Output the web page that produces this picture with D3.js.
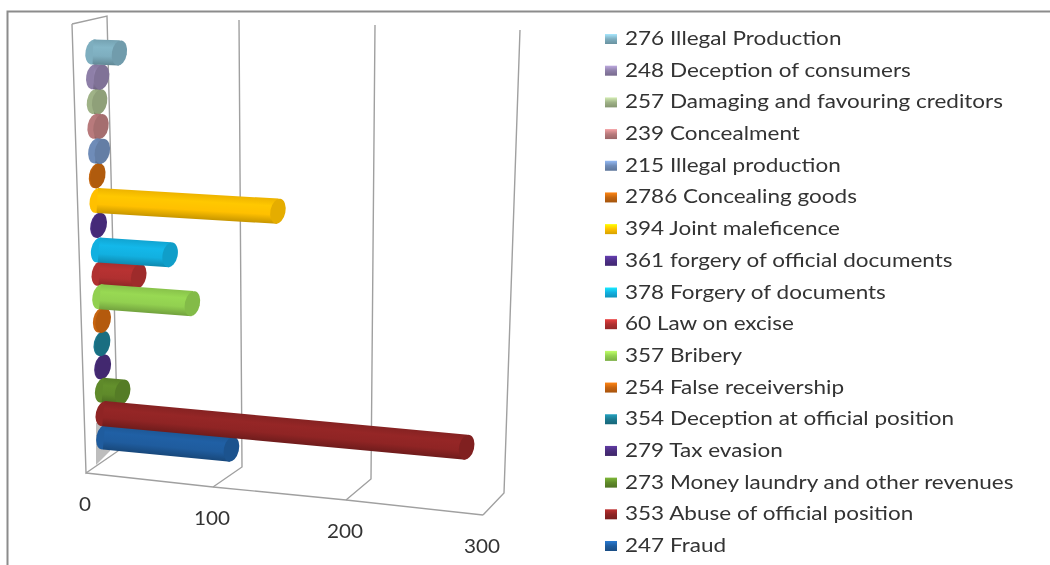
<!DOCTYPE html>
<html><head><meta charset="utf-8">
<script src="https://cdn.jsdelivr.net/npm/d3@7/dist/d3.min.js"></script>
<style>html,body{margin:0;background:#fff}svg{display:block;filter:blur(0.35px)}</style></head>
<body><svg id="c" width="1050" height="565"></svg>
<script>
// bottom-to-top category order (as in the chart's vertical axis)
const categories=["247 Fraud","353 Abuse of official position","273 Money laundry and other revenues","279 Tax evasion","354 Deception at official position","254 False receivership","357 Bribery","60 Law on excise","378 Forgery of documents","361 forgery of official documents","394 Joint maleficence","2786 Concealing goods","215 Illegal production","239 Concealment","257 Damaging and favouring creditors","248 Deception of consumers","276 Illegal Production"];
const values=[103,280,16,1,1,2,73,31,56,1,139,1,5,4.5,4,6,20];
const colors=["#1f5c9e","#8f2424","#5f8a2a","#4a2d7c","#1c7a90","#c8640f","#92d050","#b03030","#12b0e0","#4d2f86","#ffc000","#c4650f","#6f8cb8","#b87a7c","#9fb287","#8e7fa8","#7eaebf"];
const tickValues=[0,100,200,300];

const frontX=[86,213,346,483], frontY=[473,487,500,515];
const backBottomX=[118,242,371,504], backBottomY=[451,467,479,493];
const backTopX=[107,239,375,520], backTopY=[16,20,25,30];

const svg=d3.select("#c"), defs=svg.append("defs");
const fx=d3.scaleLinear().domain(tickValues).range(frontX), fy=d3.scaleLinear().domain(tickValues).range(frontY);
const bbx=d3.scaleLinear().domain(tickValues).range(backBottomX), bby=d3.scaleLinear().domain(tickValues).range(backBottomY);
const btx=d3.scaleLinear().domain(tickValues).range(backTopX), bty=d3.scaleLinear().domain(tickValues).range(backTopY);

// bar plane: x position by value at the bottom and top categories
const barXBottom=d3.scaleLinear().domain(tickValues).range([104,227.5,358,493]);
const barXTop=d3.scaleLinear().domain(tickValues).range([93,225,360,505]);
const last=categories.length-1;
const catY=d3.scaleLinear().domain([0,last/2,last]).range([437,250,52]);
const slopeAt=d3.scaleLinear().domain([0,1]).range([0.096,0.036]);
const RX=7.5, RY=12.6, TILT=8;
const tOf=i=>(catY(0)-catY(i))/(catY(0)-catY(last));

const dark=(c,k)=>d3.color(c).darker(k).formatHex();
const light=(c,k)=>d3.color(c).brighter(k).formatHex();

// frame
svg.append("path").attr("d","M7.5,565V11.5H1050").attr("fill","none").attr("stroke","#8c8c8c").attr("stroke-width",2);

// base shade
svg.append("path").attr("d",d3.line()([[96,423],[96,465],[110,451],[110,423]])).attr("fill","#bdbdbd");

// walls
const grid=svg.append("g").attr("fill","none").attr("stroke","#a0a0a0").attr("stroke-width",1.4);
grid.append("path").attr("d",d3.line()([[72,24],[107,16],[bbx(0),bby(0)],[fx(0),fy(0)],[72,24]]));
grid.append("path").attr("d",d3.line()(tickValues.map(v=>[fx(v),fy(v)])));
tickValues.slice(1).forEach(v=>{
  grid.append("path").attr("d",d3.line()([[fx(v),fy(v)],[bbx(v),bby(v)],[btx(v),bty(v)]]));
});

// gradients
categories.forEach((c,i)=>{
  const g=defs.append("linearGradient").attr("id","b"+i).attr("x1",0).attr("x2",0).attr("y1",0).attr("y2",1);
  [[0,dark(colors[i],0.2)],[0.3,light(colors[i],0.12)],[0.65,colors[i]],[1,dark(colors[i],0.7)]].forEach(s=>g.append("stop").attr("offset",s[0]).attr("stop-color",s[1]));
  const s=defs.append("linearGradient").attr("id","s"+i).attr("x1",0).attr("x2",0).attr("y1",0).attr("y2",1);
  [[0,light(colors[i],0.8)],[0.5,colors[i]],[1,dark(colors[i],0.5)]].forEach(t=>s.append("stop").attr("offset",t[0]).attr("stop-color",t[1]));
});

// bars (shorter ones behind longer ones)
const startX=i=>barXBottom(0)+(barXTop(0)-barXBottom(0))*tOf(i);
const endX=i=>{
  const v=values[i], t=tOf(i);
  return barXBottom(v)+(barXTop(v)-barXBottom(v))*t;
};
const angle=i=>Math.atan(slopeAt(tOf(i)));
const lengthOf=i=>(endX(i)-startX(i))/Math.cos(angle(i));
const order=d3.range(categories.length).sort((a,b)=>values[a]-values[b]);
const bars=svg.append("g").selectAll("g").data(order).join("g")
  .attr("transform",i=>`translate(${startX(i)},${catY(i)}) rotate(${angle(i)*180/Math.PI})`);
bars.append("ellipse").attr("rx",RX).attr("ry",RY).attr("transform",`rotate(${TILT})`).attr("fill",i=>colors[i]);
bars.append("rect").attr("x",0).attr("y",-RY).attr("width",lengthOf).attr("height",2*RY).attr("fill",i=>`url(#b${i})`);
bars.append("ellipse").attr("rx",RX).attr("ry",RY).attr("transform",i=>`translate(${lengthOf(i)},0) rotate(${TILT})`).attr("fill",i=>dark(colors[i],0.3));

// value labels
svg.append("g").selectAll("text").data(tickValues).join("text")
  .attr("x",v=>fx(v)-1).attr("y",v=>fy(v)+38)
  .attr("text-anchor","middle").attr("font-family","Lato").attr("font-size",19).attr("fill","#333")
  .attr("textLength",v=>String(v).length*12).attr("lengthAdjust","spacingAndGlyphs").text(v=>v);

// legend
const legendY=d3.scalePoint().domain(d3.range(categories.length).reverse()).range([39,546]);
const lg=svg.append("g").selectAll("g").data(d3.range(categories.length)).join("g").attr("transform",i=>`translate(605,${legendY(i)})`);
lg.append("rect").attr("x",0).attr("y",-5).attr("width",12).attr("height",10).attr("fill",i=>`url(#s${i})`);
lg.append("text").attr("x",0).attr("y",6).attr("transform","translate(20,0) scale(1.185,1)")
  .attr("font-family","Lato").attr("font-size",19).attr("fill","#333").text(i=>categories[i]);
</script></body></html>
